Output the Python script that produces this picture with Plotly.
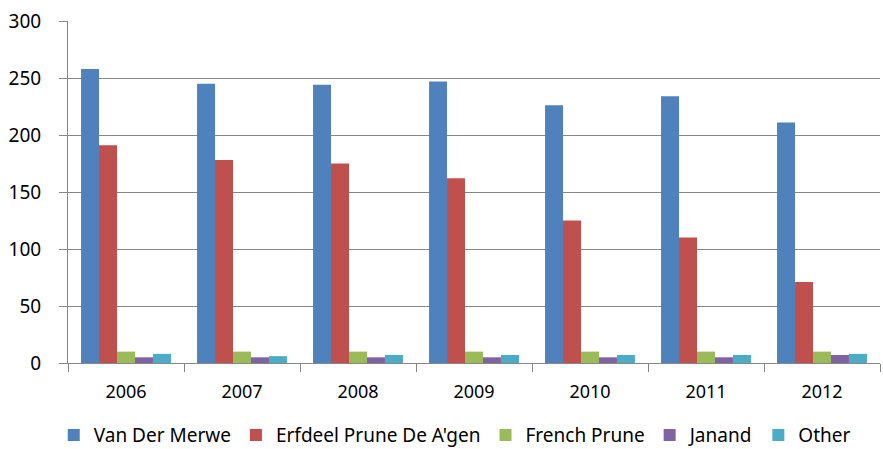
import plotly.graph_objects as go

years = ["2006", "2007", "2008", "2009", "2010", "2011", "2012"]
van_der_merwe = [258, 245, 244, 247, 226, 234, 211]
erfdeel = [191, 178, 175, 162, 125, 110, 71]
french_prune = [10, 10, 10, 10, 10, 10, 10]
janand = [5, 5, 5, 5, 5, 5, 7]
other = [8, 6, 7, 7, 7, 7, 8]

series = [
    ("Van Der Merwe", van_der_merwe, "#4F81BD"),
    ("Erfdeel Prune De A'gen", erfdeel, "#C0504D"),
    ("French Prune", french_prune, "#9BBB59"),
    ("Janand", janand, "#8064A2"),
    ("Other", other, "#4BACC6"),
]

fig = go.Figure()
for name, vals, col in series:
    fig.add_trace(go.Bar(x=years, y=vals, name=name, marker_color=col,
                         marker_line_width=0))

grid = "#868686"
fig.update_layout(
    width=883, height=449,
    margin=dict(l=68, r=3, t=21, b=86, autoexpand=False),
    barmode="group", bargap=0.225, bargroupgap=0,
    plot_bgcolor="white", paper_bgcolor="white",
    font=dict(family="Noto Sans", size=18, color="black"),
    showlegend=True,
    legend=dict(orientation="h", x=0.515, xanchor="center", xref="container",
                y=0.031, yanchor="middle", yref="container",
                font=dict(size=19), itemwidth=30, tracegroupgap=0),
    xaxis=dict(showline=True, linecolor=grid, linewidth=1, ticks="outside",
               tickson="boundaries", ticklen=8, tickcolor=grid, showgrid=False,
               automargin=False, ticklabelstandoff=12),
    yaxis=dict(range=[0, 300], dtick=50, showgrid=True, gridcolor=grid, gridwidth=1,
               showline=True, linecolor=grid, linewidth=1, ticks="outside",
               ticklen=8, tickcolor=grid, zeroline=False, automargin=False,
               tickfont=dict(size=19), ticklabelstandoff=14),
)
fig.write_html("out.html", config={"displayModeBar": False},
               post_script="document.body.style.margin='0px';")
